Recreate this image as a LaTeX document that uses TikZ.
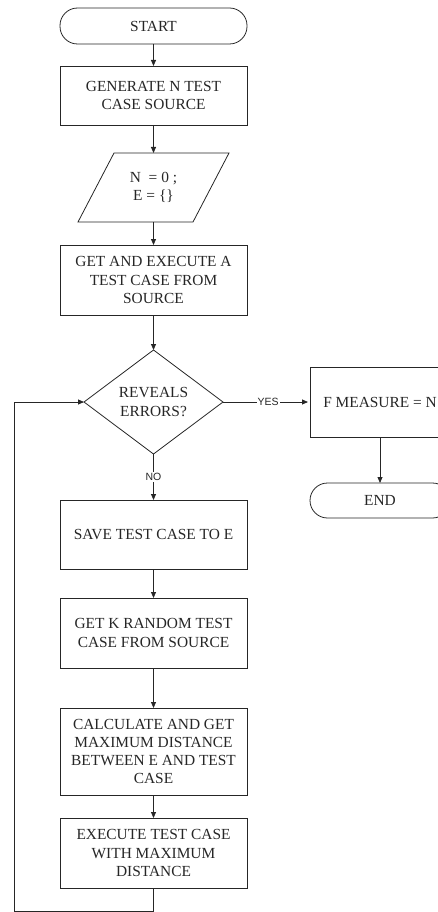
\documentclass[tikz,border=0pt]{standalone}
\usepackage{fontspec}
\setmainfont{Liberation Serif}
\newfontfamily\labfont{Liberation Sans}
\usetikzlibrary{arrows.meta}
\begin{document}
\begin{tikzpicture}[x=1pt,y=-1pt,
  every node/.style={inner sep=0pt,outer sep=0pt},
  ln/.style={draw=black!85,line width=0.8pt},
  arr/.style={ln,-{Triangle[length=6pt,width=5pt]}},
  txt/.style={font=\fontsize{15.4}{18.3}\selectfont,align=center,text=black!85},
  procbox/.style={txt,ln,rectangle,minimum width=187pt},
  termbox/.style={txt,ln,rectangle,rounded corners=17.5pt,minimum height=36pt},
  lab/.style={font=\labfont\fontsize{10.5}{12}\selectfont,fill=white,inner xsep=1pt,inner ysep=1pt,text=black!85}]
\useasboundingbox (0,0) rectangle (438,912);
% nodes
\node[termbox,minimum width=187pt] (start) at (153.5,26) {START};
\node[procbox,minimum height=59pt] (gen) at (153.5,95.5) {GENERATE N TEST\\CASE SOURCE};
\node[txt,minimum width=115pt,minimum height=69pt] (par) at (153.5,187.5) {N~~= 0 ;\\E = \{\}};
\draw[ln] ([xshift=18pt]par.north west) -- ([xshift=18pt]par.north east)
  -- ([xshift=-18pt]par.south east) -- ([xshift=-18pt]par.south west) -- cycle;
\node[procbox,minimum height=70pt] (get) at (153.5,280) {GET AND EXECUTE A\\TEST CASE FROM\\SOURCE};
\node[txt,minimum width=139pt,minimum height=104pt] (dec) at (153.5,402) {REVEALS\\ERRORS?};
\draw[ln] (dec.north) -- (dec.east) -- (dec.south) -- (dec.west) -- cycle;
\node[txt,ln,rectangle,minimum width=140pt,minimum height=70pt] (fm) at (380,402) {F MEASURE = N};
\node[termbox,minimum width=140pt,minimum height=35pt] (end) at (380,500.5) {END};
\node[procbox,minimum height=69pt] (save) at (153.5,534.5) {SAVE TEST CASE TO E};
\node[procbox,minimum height=70pt] (getk) at (153.5,633) {GET K RANDOM TEST\\CASE FROM SOURCE};
\node[procbox,minimum height=87pt] (calc) at (153.5,751.5) {CALCULATE AND GET\\MAXIMUM DISTANCE\\BETWEEN E AND TEST\\CASE};
\node[procbox,minimum height=70pt] (exe) at (153.5,853) {EXECUTE TEST CASE\\WITH MAXIMUM\\DISTANCE};
\coordinate (lb) at (14,911);
% connectors
\draw[arr] (start) -- (gen);
\draw[arr] (gen) -- (par.north);
\draw[arr] (par.south) -- (get);
\draw[arr] (get) -- (dec.north);
\draw[arr,shorten >=2pt] (dec.east) -- node[lab,pos=0.52] {YES} (fm.west);
\draw[arr] (dec.south) -- node[lab,pos=0.5] {NO} (save.north);
\draw[arr] (fm) -- (end);
\draw[arr] (save) -- (getk);
\draw[arr] (getk) -- (calc);
\draw[arr] (calc) -- (exe);
\draw[arr] (exe.south) |- (lb) |- (dec.west);
\end{tikzpicture}
\end{document}
